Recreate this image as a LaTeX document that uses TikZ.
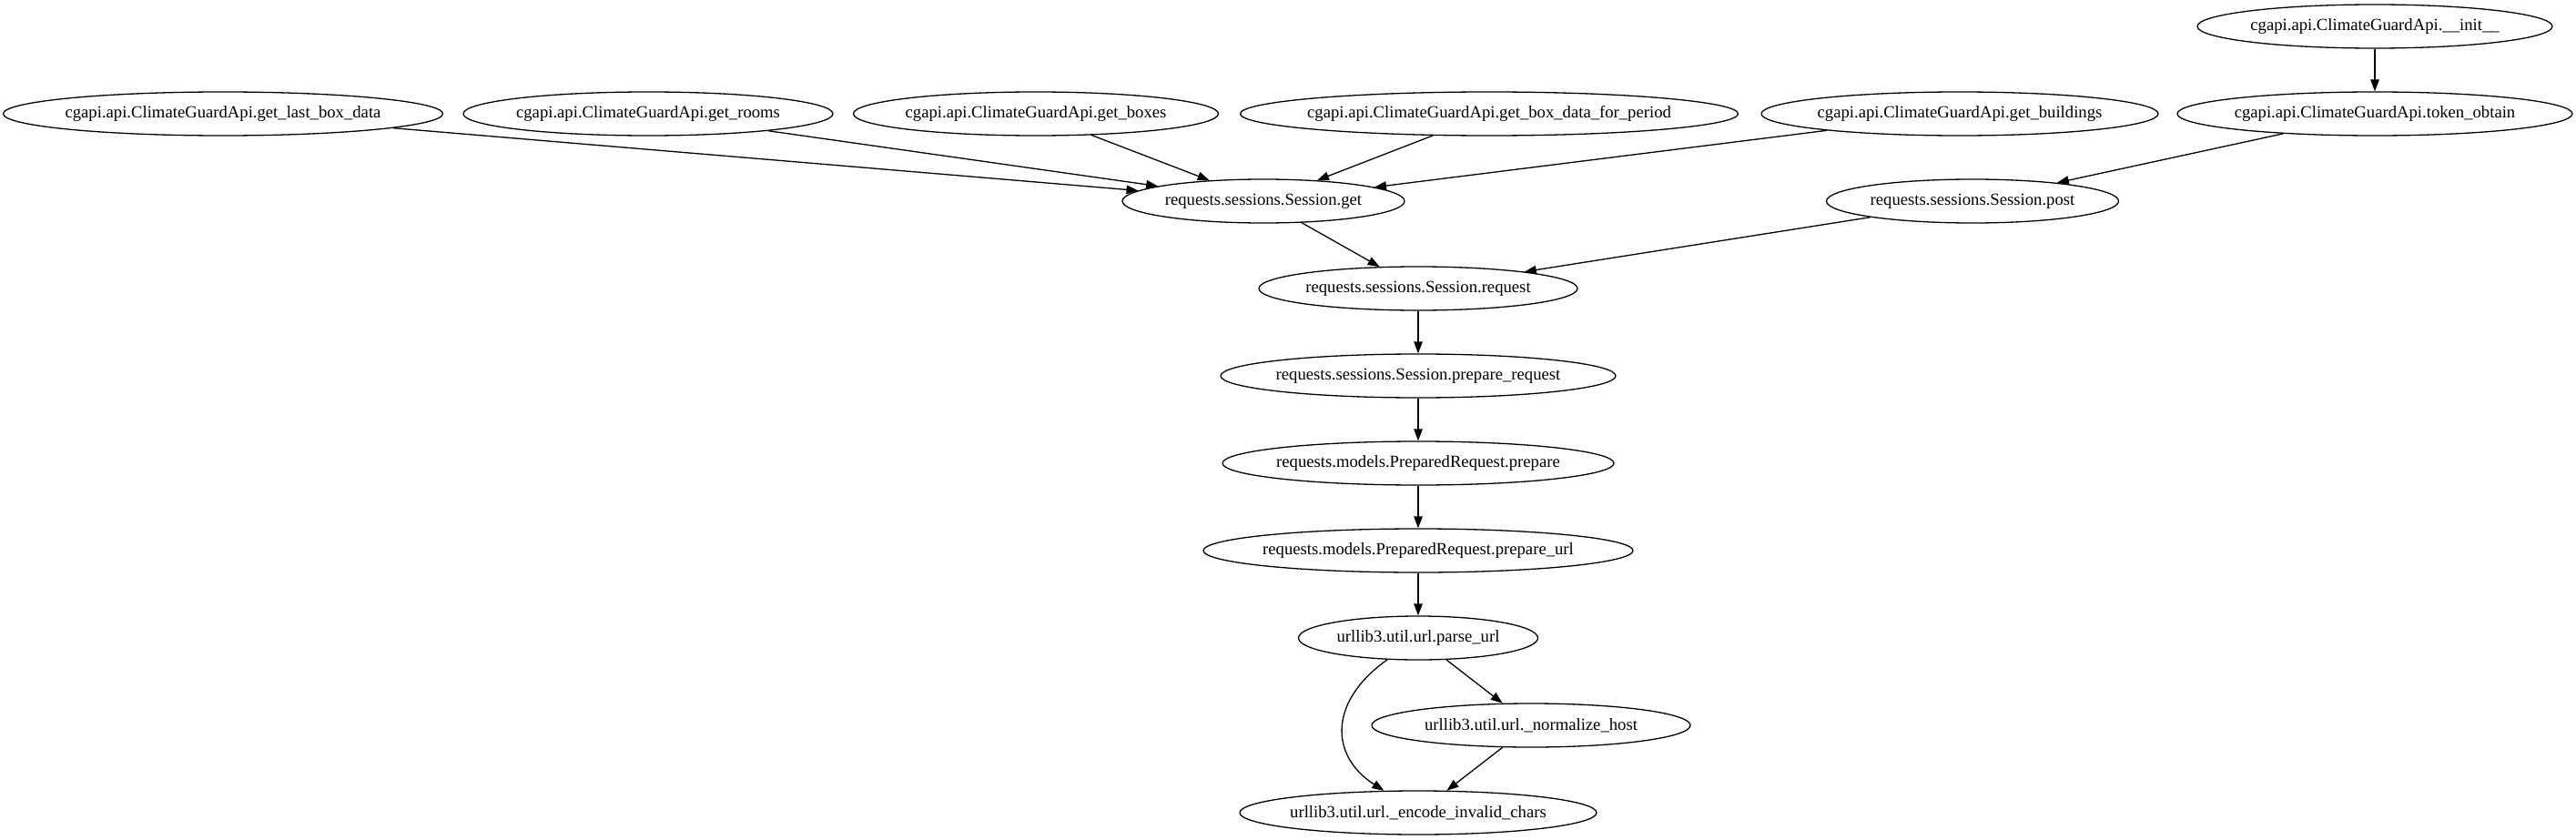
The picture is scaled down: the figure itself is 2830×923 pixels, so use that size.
\documentclass[tikz,border=0pt]{standalone}
\usepackage{fontspec}
\setmainfont{Liberation Serif}
\usetikzlibrary{arrows.meta,shapes.geometric}
\tikzset{
  fn/.style={ellipse,draw,line width=1.3pt,minimum height=48pt,minimum width=#1,
    inner xsep=-300pt,inner ysep=-30pt,
    font=\fontsize{18.67}{22}\selectfont},
  edge/.style={line width=1.3pt,-{Triangle[length=13pt,width=9.5pt]}}
}
\begin{document}
\begin{tikzpicture}[x=1pt,y=-1pt]
\useasboundingbox (0,0) rectangle (2830,923);
\node[fn=390pt] (init) at (2609,29) {cgapi.api.ClimateGuardApi.\_\_init\_\_};
\node[fn=483pt] (lastbox) at (245,125) {cgapi.api.ClimateGuardApi.get\_last\_box\_data};
\node[fn=406pt] (rooms) at (712,125) {cgapi.api.ClimateGuardApi.get\_rooms};
\node[fn=401pt] (boxes) at (1138,125) {cgapi.api.ClimateGuardApi.get\_boxes};
\node[fn=547pt] (period) at (1636,125) {cgapi.api.ClimateGuardApi.get\_box\_data\_for\_period};
\node[fn=436pt] (buildings) at (2153,125) {cgapi.api.ClimateGuardApi.get\_buildings};
\node[fn=434pt] (token) at (2609,125) {cgapi.api.ClimateGuardApi.token\_obtain};
\node[fn=310pt] (get) at (1388,221) {requests.sessions.Session.get};
\node[fn=321pt] (post) at (2167,221) {requests.sessions.Session.post};
\node[fn=350pt] (request) at (1558,317) {requests.sessions.Session.request};
\node[fn=434pt] (prepreq) at (1558,413) {requests.sessions.Session.prepare\_request};
\node[fn=430pt] (prepare) at (1558,509) {requests.models.PreparedRequest.prepare};
\node[fn=472pt] (prepurl) at (1558,605) {requests.models.PreparedRequest.prepare\_url};
\node[fn=263pt] (parse) at (1558,701) {urllib3.util.url.parse\_url};
\node[fn=350pt] (normalize) at (1682,797) {urllib3.util.url.\_normalize\_host};
\node[fn=392pt] (encode) at (1558,893) {urllib3.util.url.\_encode\_invalid\_chars};
\draw[edge] (init) -- (token);
\draw[edge] (lastbox) -- (get);
\draw[edge] (rooms) -- (get);
\draw[edge] (boxes) -- (get);
\draw[edge] (period) -- (get);
\draw[edge] (buildings) -- (get);
\draw[edge] (token) -- (post);
\draw[edge] (get) -- (request);
\draw[edge] (post) -- (request);
\draw[edge] (request) -- (prepreq);
\draw[edge] (prepreq) -- (prepare);
\draw[edge] (prepare) -- (prepurl);
\draw[edge] (prepurl) -- (parse);
\draw[edge] (parse) -- (normalize);
\draw[edge] (parse) .. controls (1460,770) and (1460,830) .. (encode);
\draw[edge] (normalize) -- (encode);
\end{tikzpicture}
\end{document}
